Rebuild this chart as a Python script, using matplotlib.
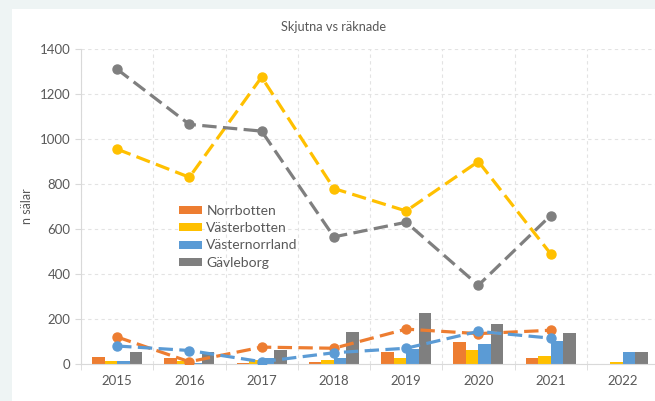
import numpy as np
import matplotlib
matplotlib.use('Agg')
import matplotlib.pyplot as plt
from matplotlib.patches import Rectangle

plt.rcParams['font.family'] = ['Lato', 'DejaVu Sans']

years = ['2015', '2016', '2017', '2018', '2019', '2020', '2021', '2022']
regions = ['Norrbotten', 'Västerbotten', 'Västernorrland', 'Gävleborg']
colors = ['#ED7D31', '#FFC000', '#5B9BD5', '#7F7F7F']

# skjutna (bars)
shot_norrbotten = [30, 25, 3, 8, 55, 97, 27, 2]
shot_vasterbotten = [15, 12, 18, 17, 25, 64, 35, 10]
shot_vasternorrland = [15, 5, 28, 28, 65, 88, 102, 52]
shot_gavleborg = [52, 55, 63, 143, 225, 178, 140, 55]

# räknade (dashed lines), no value for 2022
count_norrbotten = [120, 10, 75, 70, 155, 135, 150]
count_vasterbotten = [955, 830, 1275, 780, 680, 900, 490]
count_vasternorrland = [80, 60, 10, 50, 70, 145, 115]
count_gavleborg = [1310, 1065, 1035, 565, 630, 350, 660]

shot = [shot_norrbotten, shot_vasterbotten, shot_vasternorrland, shot_gavleborg]
counted = [count_norrbotten, count_vasterbotten, count_vasternorrland, count_gavleborg]

fig = plt.figure(figsize=(6.55, 4.01), dpi=100)
fig.patch.set_facecolor('#EEF4F4')
fig.add_artist(Rectangle((12 / 655, 0), 1, 1 - 9 / 401, transform=fig.transFigure,
                         facecolor='white', edgecolor='none', zorder=-10))

ax = fig.add_axes([81 / 655, 1 - 364 / 401, 578 / 655, 315 / 401])
ax.set_facecolor('none')
ax.set_zorder(5)

x = np.arange(len(years))
w = 0.173
for i, (name, vals) in enumerate(zip(regions, shot)):
    ax.bar(x + (i - 1.5) * w, vals, width=w, color=colors[i], label=name, zorder=2)

for i, vals in enumerate(counted):
    xs = x[:len(vals)]
    ax.plot(xs, vals, color=colors[i], lw=2.3, dashes=(4.5, 2.0), marker='o',
            markersize=6.5, zorder=3)

ax.set_xlim(-0.5, len(years) - 0.5)
ax.set_ylim(0, 1400)
ax.set_yticks(np.arange(0, 1401, 200))
ax.set_xticks(x)
ax.set_xticklabels(years)
ax.set_xticks(np.arange(-0.5, len(years)), minor=True)

ax.grid(axis='y', color='#E3E3E3', linestyle=(0, (3, 3)), lw=0.8, zorder=0)
ax.grid(axis='x', which='minor', color='#E3E3E3', linestyle=(0, (3, 3)), lw=0.8, zorder=0)
ax.tick_params(axis='x', which='major', length=0, labelsize=9.5, colors='#595959', pad=8)
ax.tick_params(axis='x', which='minor', length=4, color='#D9D9D9')
ax.tick_params(axis='y', length=4, color='#D9D9D9', labelsize=9.5, labelcolor='#595959')

for side in ['top', 'right']:
    ax.spines[side].set_visible(False)
for side in ['left', 'bottom']:
    ax.spines[side].set_color('#D9D9D9')

ax.set_ylabel('n sälar', fontsize=9, color='#595959')
ax.yaxis.set_label_coords(-0.083, 0.5)
fig.text(333 / 655, 1 - 27 / 401, 'Skjutna vs räknade', fontsize=9.2, color='#595959',
         ha='center', va='center')

ax.legend(loc='upper left', bbox_to_anchor=(0.17, 0.505), frameon=False, fontsize=10,
          handlelength=1.65, handleheight=0.5, handletextpad=0.3, labelspacing=0.38,
          labelcolor='#595959', borderpad=0, borderaxespad=0)

fig.savefig('out.png', dpi=100, facecolor=fig.get_facecolor())
